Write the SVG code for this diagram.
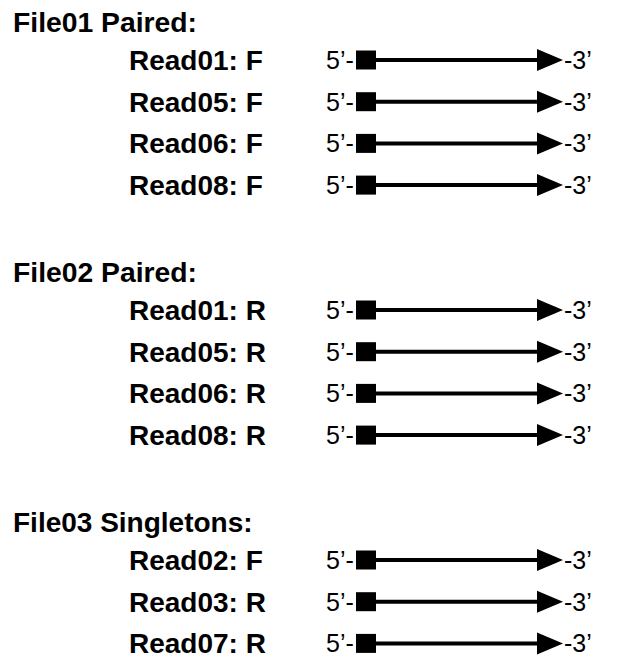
<svg xmlns="http://www.w3.org/2000/svg" width="633" height="666" viewBox="0 0 633 666">
<defs>
<style>
.h{font-family:"Liberation Sans",Arial,sans-serif;font-weight:bold;font-size:28px;fill:#000}
.r{font-family:"Liberation Sans",Arial,sans-serif;font-weight:bold;font-size:28px;fill:#000}
.e{font-family:"Liberation Sans",Arial,sans-serif;font-size:25px;fill:#000}
.ln{stroke:#000;stroke-width:4;fill:none}
</style>
<g id="read">
<rect x="356" y="-9.5" width="20" height="19" fill="#000"/>
</g>
</defs>
<rect width="633" height="666" fill="#fff"/>
<g id="headers">
<text class="h" x="13" y="32" textLength="184" lengthAdjust="spacingAndGlyphs">File01 Paired:</text>
<text class="h" x="13" y="282" textLength="184" lengthAdjust="spacingAndGlyphs">File02 Paired:</text>
<text class="h" x="13" y="532">File03 Singletons:</text>
</g>
<g id="labels">
<text class="r" x="129" y="70">Read01: F</text>
<text class="r" x="129" y="111.7">Read05: F</text>
<text class="r" x="129" y="153.4">Read06: F</text>
<text class="r" x="129" y="195.1">Read08: F</text>
<text class="r" x="129" y="320">Read01: R</text>
<text class="r" x="129" y="361.7">Read05: R</text>
<text class="r" x="129" y="403.4">Read06: R</text>
<text class="r" x="129" y="445.1">Read08: R</text>
<text class="r" x="129" y="570">Read02: F</text>
<text class="r" x="129" y="611.7">Read03: R</text>
<text class="r" x="129" y="653.4">Read07: R</text>
</g>
<g id="ends">
<text class="e" x="326" y="69">5’-</text><text class="e" x="564" y="69">-3’</text>
<text class="e" x="326" y="110.7">5’-</text><text class="e" x="564" y="110.7">-3’</text>
<text class="e" x="326" y="152.4">5’-</text><text class="e" x="564" y="152.4">-3’</text>
<text class="e" x="326" y="194.1">5’-</text><text class="e" x="564" y="194.1">-3’</text>
<text class="e" x="326" y="319">5’-</text><text class="e" x="564" y="319">-3’</text>
<text class="e" x="326" y="360.7">5’-</text><text class="e" x="564" y="360.7">-3’</text>
<text class="e" x="326" y="402.4">5’-</text><text class="e" x="564" y="402.4">-3’</text>
<text class="e" x="326" y="444.1">5’-</text><text class="e" x="564" y="444.1">-3’</text>
<text class="e" x="326" y="569">5’-</text><text class="e" x="564" y="569">-3’</text>
<text class="e" x="326" y="610.7">5’-</text><text class="e" x="564" y="610.7">-3’</text>
<text class="e" x="326" y="652.4">5’-</text><text class="e" x="564" y="652.4">-3’</text>
</g>
<g id="connectors">
<g transform="translate(0,60)"><use href="#read"/><line class="ln" x1="376" y1="0" x2="540" y2="0"/><polygon points="537,-11 563,0 537,11"/></g>
<g transform="translate(0,101.7)"><use href="#read"/><line class="ln" x1="376" y1="0" x2="540" y2="0"/><polygon points="537,-11 563,0 537,11"/></g>
<g transform="translate(0,143.4)"><use href="#read"/><line class="ln" x1="376" y1="0" x2="540" y2="0"/><polygon points="537,-11 563,0 537,11"/></g>
<g transform="translate(0,185.1)"><use href="#read"/><line class="ln" x1="376" y1="0" x2="540" y2="0"/><polygon points="537,-11 563,0 537,11"/></g>
<g transform="translate(0,310)"><use href="#read"/><line class="ln" x1="376" y1="0" x2="540" y2="0"/><polygon points="537,-11 563,0 537,11"/></g>
<g transform="translate(0,351.7)"><use href="#read"/><line class="ln" x1="376" y1="0" x2="540" y2="0"/><polygon points="537,-11 563,0 537,11"/></g>
<g transform="translate(0,393.4)"><use href="#read"/><line class="ln" x1="376" y1="0" x2="540" y2="0"/><polygon points="537,-11 563,0 537,11"/></g>
<g transform="translate(0,435.1)"><use href="#read"/><line class="ln" x1="376" y1="0" x2="540" y2="0"/><polygon points="537,-11 563,0 537,11"/></g>
<g transform="translate(0,560)"><use href="#read"/><line class="ln" x1="376" y1="0" x2="540" y2="0"/><polygon points="537,-11 563,0 537,11"/></g>
<g transform="translate(0,601.7)"><use href="#read"/><line class="ln" x1="376" y1="0" x2="540" y2="0"/><polygon points="537,-11 563,0 537,11"/></g>
<g transform="translate(0,643.4)"><use href="#read"/><line class="ln" x1="376" y1="0" x2="540" y2="0"/><polygon points="537,-11 563,0 537,11"/></g>
</g>
</svg>
